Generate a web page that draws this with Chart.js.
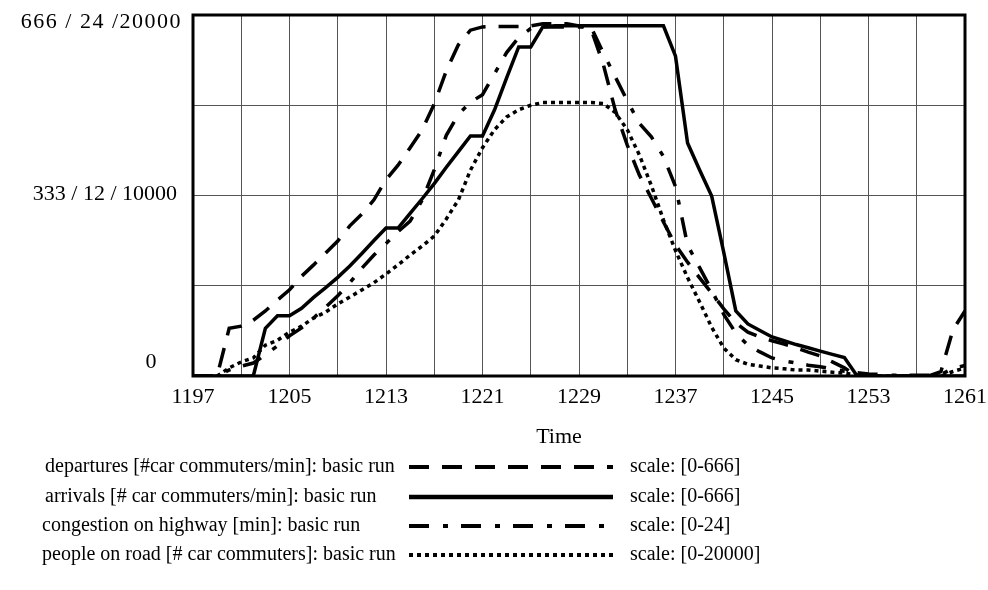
<!DOCTYPE html>
<html>
<head>
<meta charset="utf-8">
<script src="https://cdn.jsdelivr.net/npm/chart.js@4/dist/chart.umd.min.js"></script>
<style>
  html, body { margin: 0; padding: 0; background: #fff; }
</style>
</head>
<body>
<canvas id="chart" width="988" height="590"></canvas>
<script>
// time axis (minutes)
var times = [1197,1198,1199,1200,1201,1202,1203,1204,1205,1206,1207,1208,1209,1210,1211,1212,
  1213,1214,1215,1216,1217,1218,1219,1220,1221,1222,1223,1224,1225,1226,1227,1228,
  1229,1230,1231,1232,1233,1234,1235,1236,1237,1238,1239,1240,1241,1242,1243,1244,
  1245,1246,1247,1248,1249,1250,1251,1252,1253,1254,1255,1256,1257,1258,1259,1260,1261];

// departures [#car commuters/min]
var departures = [0,0,0,88,92,103,120,140,159,184,205,227,249,277,299,325,
  362,389,421,454,502,563,611,638,644,645,645,645,646,650,650,650,
  646,640,576,491,426,371,328,284,242,210,181,153,124,98,81,72,
  65,59,52,44,37,26,15,0,0,0,0,0,0,0,8,85,120];

// arrivals [# car commuters/min]
var arrivals = [0,0,0,0,0,0,88,111,111,125,145,163,182,203,226,250,
  273,273,300,327,355,385,414,443,443,491,550,607,607,644,646,646,
  646,646,646,646,646,646,646,646,590,430,380,332,228,120,96,84,
  72,65,58,52,46,40,34,2,0,0,0,0,0,0,0,0,0];

// congestion on highway [min]
var congestion = [0,0,0,0.4,0.65,0.86,1.4,2.0,2.67,3.2,3.86,4.58,5.33,6.2,7.17,8.04,
  8.8,9.6,10.3,11.7,13.7,16.0,17.4,18.2,18.7,20.1,21.5,22.5,23.1,23.2,23.2,23.2,
  23.2,23.2,21.5,19.9,18.3,16.8,15.9,14.6,12.6,8.7,7.2,5.7,4.1,2.85,2.05,1.6,
  1.2,1.0,0.86,0.72,0.61,0.47,0.32,0.22,0.14,0.1,0.05,0.05,0.05,0.05,0.1,0.5,0.7];

// people on road [# car commuters]
var peopleOnRoad = [0,0,0,450,780,1000,1710,1980,2430,2760,3210,3540,3990,4380,4770,5170,
  5650,6160,6700,7200,7750,8700,9750,11400,12650,13650,14350,14750,15000,15150,15150,15150,
  15150,15150,15100,14600,13650,12250,10550,8650,6950,5450,4100,2700,1550,900,650,550,
  450,400,330,330,270,210,150,60,0,0,0,0,0,0,0,250,450];

var seriesNames = [
  'departures [#car commuters/min]: basic run',
  'arrivals [# car commuters/min]: basic run',
  'congestion on highway [min]: basic run',
  'people on road [# car commuters]: basic run'
];
var scaleLabels = ['scale: [0-666]', 'scale: [0-666]', 'scale: [0-24]', 'scale: [0-20000]'];
var yTickLabels = ['0', '333 / 12 / 10000', '666 / 24 /20000'];
var xTitle = 'Time';

var serif = "'Liberation Serif', 'Times New Roman', serif";
Chart.defaults.font.family = serif;
Chart.defaults.color = '#000';

var dashes = [[20, 13], [], [20, 14, 5, 13], [4, 4]];

function pts(vals) {
  return times.map(function(t, i) { return {x: t, y: vals[i]}; });
}

function lineSet(label, vals, axis, dash) {
  return {
    label: label, data: pts(vals), yAxisID: axis,
    borderColor: '#000', borderWidth: 3.5, borderDash: dash,
    borderCapStyle: 'butt', pointRadius: 0, tension: 0, fill: false
  };
}

// frame, y labels, axis title and the legend table under the chart
var extras = {
  id: 'extras',
  afterDatasetsDraw: function(chart) {
    var a = chart.chartArea, c = chart.ctx;
    c.save();
    c.strokeStyle = '#000';
    c.lineWidth = 3;
    c.strokeRect(a.left, a.top, a.right - a.left, a.bottom - a.top);
    c.restore();
  },
  afterDraw: function(chart) {
    var c = chart.ctx, ys = chart.scales.y;
    c.save();
    c.fillStyle = '#000';
    c.textBaseline = 'middle';
    c.font = '22px ' + serif;
    c.textAlign = 'right';
    c.letterSpacing = '1.5px';
    c.fillText(yTickLabels[2], 182, ys.getPixelForValue(666) + 7);
    c.letterSpacing = '0px';
    c.fillText(yTickLabels[1], 177, ys.getPixelForValue(333) - 1);
    c.textAlign = 'center';
    c.fillText(yTickLabels[0], 151, ys.getPixelForValue(0) - 14);
    c.fillText(xTitle, 559, 437);

    var rowY = [467, 497, 526, 555];
    var textX = [45, 45, 42, 42];
    c.font = '20px ' + serif;
    c.textAlign = 'left';
    for (var i = 0; i < 4; i++) {
      c.fillText(seriesNames[i], textX[i], rowY[i]);
      c.fillText(scaleLabels[i], 630, rowY[i]);
      c.beginPath();
      c.setLineDash(dashes[i]);
      c.lineWidth = i === 1 ? 4.5 : 4;
      c.strokeStyle = '#000';
      c.moveTo(409, rowY[i]);
      c.lineTo(i === 2 ? 605 : 613, rowY[i]);
      c.stroke();
    }
    c.restore();
  }
};

new Chart(document.getElementById('chart'), {
  type: 'line',
  data: {
    datasets: [
      lineSet(seriesNames[0], departures, 'y', dashes[0]),
      lineSet(seriesNames[1], arrivals, 'y', dashes[1]),
      lineSet(seriesNames[2], congestion, 'yCong', dashes[2]),
      lineSet(seriesNames[3], peopleOnRoad, 'yPeople', dashes[3])
    ]
  },
  options: {
    responsive: false,
    animation: false,
    layout: {padding: {left: 193, right: 23, top: 15, bottom: 139}},
    plugins: {legend: {display: false}, tooltip: {enabled: false}},
    scales: {
      x: {
        type: 'linear', min: 1197, max: 1261,
        afterFit: function(s) { s.height = 75; s.paddingLeft = 0; s.paddingRight = 0; },
        ticks: {
          stepSize: 4, autoSkip: false, maxRotation: 0, padding: 8,
          font: {size: 22},
          callback: function(v) {
            v = Math.round(v);
            return (v - 1197) % 8 === 0 ? String(v) : '';
          }
        },
        grid: {color: '#555', lineWidth: 1, drawTicks: false},
        border: {display: false}
      },
      y: {
        min: 0, max: 666,
        afterFit: function(s) { s.width = 0; s.paddingTop = 0; s.paddingBottom = 0; },
        ticks: {display: false, stepSize: 166.5},
        grid: {color: '#555', lineWidth: 1, drawTicks: false},
        border: {display: false}
      },
      yCong: {display: false, min: 0, max: 24},
      yPeople: {display: false, min: 0, max: 20000}
    }
  },
  plugins: [extras]
});
</script>
</body>
</html>
